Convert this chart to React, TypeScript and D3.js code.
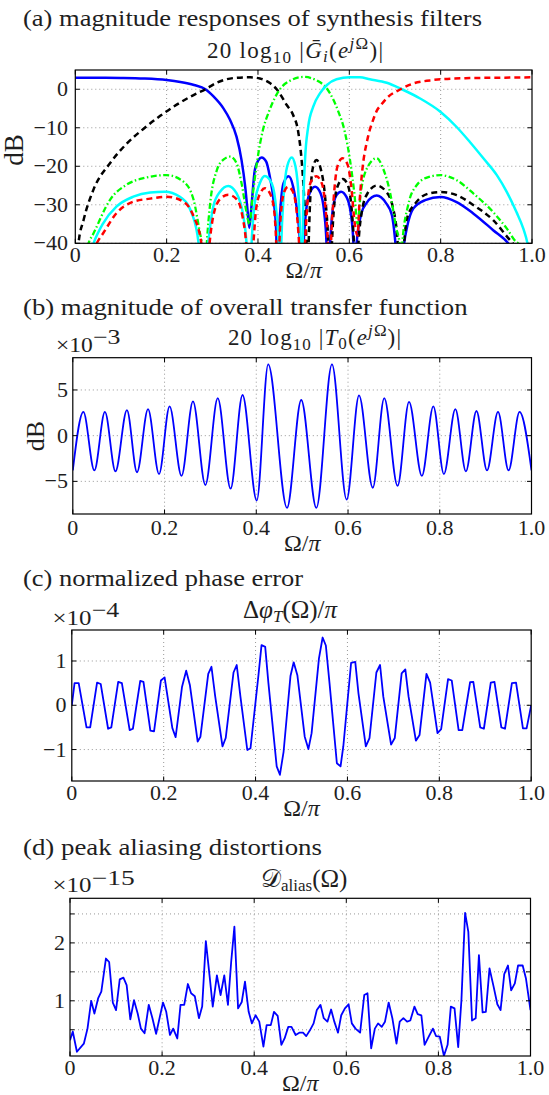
import * as d3 from "d3";

const SERIF = "'Liberation Serif', 'Times New Roman', serif";

// shared frequency axis, Ω/π
const omegaTicks = [0, 0.2, 0.4, 0.6, 0.8, 1.0];
const omegaTickLabels = ["0", "0.2", "0.4", "0.6", "0.8", "1.0"];

// (a) synthesis filters, [Ω/π, dB]. values below -40 dB fall outside the frame
const g0: [number, number][] = [
  [0, 3.0], [0.05, 3.0], [0.1, 2.95], [0.15, 2.8], [0.2, 2.4], [0.23, 1.9], [0.26, 1.1], [0.285, 0],
  [0.302, -1.8], [0.324, -4.9], [0.339, -8], [0.353, -12.3], [0.364, -18.4], [0.372, -25.3], [0.377, -31.3], [0.381, -36],
  [0.386, -30], [0.393, -21], [0.401, -18.4], [0.408, -17.7], [0.418, -18.8], [0.426, -22.7], [0.434, -28.7], [0.44, -37], [0.442, -55],
  [0.445, -40], [0.449, -31.3], [0.456, -24.4], [0.467, -22.6], [0.477, -25.3], [0.486, -32], [0.492, -40], [0.496, -55],
  [0.5, -40], [0.505, -32], [0.513, -27], [0.525, -25.3], [0.537, -27], [0.545, -32], [0.55, -40], [0.553, -55],
  [0.558, -40], [0.564, -31], [0.572, -27.5], [0.582, -26.6], [0.594, -28], [0.603, -32], [0.609, -40], [0.612, -55],
  [0.616, -40], [0.627, -32], [0.638, -29.5], [0.66, -27.6], [0.68, -29.5], [0.693, -32.6], [0.701, -40], [0.71, -55],
  [0.72, -40], [0.726, -36], [0.74, -31], [0.766, -28.8], [0.8, -28], [0.835, -29.3], [0.872, -32.3], [0.915, -36.6],
  [0.948, -40], [0.97, -44], [1.0, -50],
];
const g1: [number, number][] = [
  [0, -60], [0.007, -40], [0.018, -34], [0.04, -26], [0.076, -19.2], [0.112, -14.2], [0.149, -10.3], [0.186, -6.9],
  [0.222, -4.0], [0.259, -1.5], [0.285, 0], [0.31, 1.7], [0.346, 2.9], [0.383, 3.1], [0.404, 2.8], [0.426, 1.6],
  [0.441, 0], [0.463, -4.1], [0.477, -6.7], [0.488, -11], [0.496, -19], [0.502, -30], [0.506, -40], [0.508, -55],
  [0.511, -40], [0.515, -27], [0.52, -20.5], [0.528, -18.4], [0.537, -20.5], [0.547, -28], [0.554, -40], [0.558, -55],
  [0.562, -40], [0.567, -30], [0.575, -25], [0.586, -23.3], [0.597, -25], [0.605, -31], [0.61, -40], [0.614, -55],
  [0.62, -40], [0.627, -32], [0.64, -27], [0.66, -25], [0.68, -26.5], [0.695, -30.5], [0.706, -40], [0.712, -55],
  [0.72, -40], [0.726, -33.6], [0.747, -29.3], [0.773, -27.1], [0.8, -26.7], [0.835, -27.5], [0.872, -30.1],
  [0.915, -34], [0.952, -39.2], [0.958, -40], [0.98, -46], [1.0, -52],
];
const g2: [number, number][] = [
  [0, -60], [0.029, -40], [0.04, -37.4], [0.076, -28.7], [0.112, -24.8], [0.149, -23.1], [0.2, -22.3], [0.237, -24],
  [0.259, -28.7], [0.273, -37.4], [0.277, -40], [0.282, -55],
  [0.288, -40], [0.295, -30], [0.31, -21], [0.325, -18.2], [0.339, -17.5], [0.353, -19.2], [0.364, -24.4], [0.375, -32], [0.381, -35],
  [0.389, -27], [0.399, -18], [0.41, -11], [0.425, -5.5], [0.448, 0], [0.47, 2.2], [0.5, 3.2], [0.53, 2.2], [0.552, 0],
  [0.575, -5.5], [0.59, -11], [0.601, -18], [0.611, -27], [0.618, -35],
  [0.625, -27], [0.641, -20], [0.66, -17.9], [0.674, -20.6], [0.689, -26.7], [0.703, -36.2], [0.71, -40], [0.713, -55],
  [0.716, -40], [0.729, -30], [0.747, -25], [0.773, -22.8], [0.8, -22.3], [0.835, -23.6], [0.872, -27.1], [0.915, -31.9],
  [0.945, -36.2], [0.966, -39.7], [0.97, -40], [0.99, -50], [1.0, -55],
];
const g3: [number, number][] = [
  [0, -60], [0.04, -40], [0.061, -34.8], [0.09, -30.5], [0.127, -27.9], [0.164, -26.8], [0.196, -26.6], [0.229, -27.9],
  [0.255, -32.2], [0.27, -40], [0.28, -55],
  [0.291, -40], [0.302, -30.5], [0.317, -26.6], [0.335, -25.1], [0.353, -27], [0.368, -33], [0.375, -40], [0.381, -55],
  [0.386, -40], [0.393, -29.6], [0.404, -24.4], [0.415, -22.5], [0.43, -24.4], [0.44, -31.3], [0.445, -40], [0.448, -55],
  [0.451, -40], [0.456, -28], [0.464, -20], [0.474, -17.7], [0.482, -20], [0.489, -28], [0.493, -40], [0.496, -55],
  [0.499, -31], [0.503, -18.4], [0.51, -9.7], [0.521, -4.5], [0.536, -1], [0.551, 1.1], [0.572, 2.6], [0.601, 3.1],
  [0.623, 3.1], [0.645, 2.6], [0.682, 1.7], [0.715, 0], [0.755, -2.4], [0.8, -5.9], [0.835, -9.8], [0.864, -13.7],
  [0.894, -18], [0.923, -22.3], [0.945, -26.7], [0.966, -31.9], [0.981, -36.2], [0.99, -40], [1.0, -48],
];
const g4: [number, number][] = [
  [0, -60], [0.047, -40], [0.061, -37.4], [0.09, -32.2], [0.127, -29.2], [0.164, -28.4], [0.2, -27.9], [0.237, -29.2],
  [0.259, -33], [0.276, -40], [0.285, -55],
  [0.294, -40], [0.302, -33], [0.317, -28.5], [0.335, -27.4], [0.353, -28.5], [0.366, -33], [0.374, -40], [0.381, -55],
  [0.39, -40], [0.396, -31], [0.405, -27], [0.415, -25.7], [0.426, -27], [0.435, -31], [0.44, -40], [0.444, -55],
  [0.447, -40], [0.452, -30], [0.458, -26.5], [0.466, -25.3], [0.476, -26.5], [0.484, -31], [0.49, -40], [0.496, -55],
  [0.503, -40], [0.508, -30], [0.516, -24], [0.528, -22.6], [0.54, -24.5], [0.548, -31], [0.553, -40], [0.557, -55],
  [0.56, -40], [0.566, -28], [0.574, -20], [0.585, -17.9], [0.596, -19.5], [0.604, -25], [0.612, -35], [0.618, -38],
  [0.622, -30], [0.627, -22.7], [0.641, -12.3], [0.652, -8], [0.66, -5.6], [0.67, -4], [0.682, -2.3], [0.712, 0],
  [0.74, 1.5], [0.777, 2.3], [0.8, 2.6], [0.864, 2.9], [0.93, 3.0], [1.0, 3.1],
];
const dbTicks = [-40, -30, -20, -10, 0];

// (b) overall transfer magnitude, extremes of the ripple, [Ω/π, dB·1e3]
const t0Ripple: [number, number][] = [
  [0, -3.8], [0.023, 2.6], [0.047, -3.8], [0.07, 2.6], [0.093, -3.9], [0.118, 2.8], [0.14, -4.0], [0.164, 2.9],
  [0.188, -4.2], [0.211, 3.2], [0.237, -4.4], [0.262, 3.75], [0.289, -5.4], [0.316, 4.1], [0.344, -5.8], [0.37, 4.45],
  [0.401, -7.1], [0.426, 7.8], [0.467, -7.9], [0.498, 3.9], [0.531, -7.9], [0.565, 7.8], [0.597, -7.0], [0.624, 4.4],
  [0.654, -5.7], [0.679, 4.1], [0.708, -5.5], [0.733, 3.7], [0.761, -4.4], [0.786, 3.2], [0.809, -4.2], [0.834, 2.9],
  [0.857, -3.9], [0.88, 2.7], [0.903, -3.8], [0.927, 2.6], [0.95, -3.8], [0.974, 2.6], [1.0, -3.8],
];
const t0Ticks = [-5, 0, 5];

// (c) normalized phase error, [Ω/π, 1e4·Δφ/π]
const phaseErr: [number, number][] = [
  [0, 0], [0.006, 0.5], [0.015, 0.5], [0.032, -0.5], [0.04, -0.5], [0.055, 0.51], [0.063, 0.48], [0.079, -0.53],
  [0.086, -0.5], [0.101, 0.53], [0.109, 0.5], [0.126, -0.56], [0.133, -0.53], [0.149, 0.55], [0.156, 0.53],
  [0.171, -0.57], [0.179, -0.59], [0.194, 0.56], [0.202, 0.63], [0.219, -0.52], [0.226, -0.72], [0.24, 0.42],
  [0.249, 0.78], [0.257, 0.46], [0.274, -0.82], [0.28, -0.71], [0.297, 0.71], [0.304, 0.87], [0.312, 0.21],
  [0.328, -0.93], [0.335, -0.74], [0.352, 0.74], [0.359, 0.91], [0.367, 0.2], [0.382, -1.01], [0.389, -0.97],
  [0.406, 0.65], [0.413, 1.36], [0.421, 1.32], [0.428, 0.5], [0.446, -1.38], [0.453, -1.57], [0.461, -1.05],
  [0.476, 0.66], [0.483, 0.97], [0.491, 0.68], [0.507, -0.71], [0.515, -0.99], [0.522, -0.63], [0.538, 1.06],
  [0.546, 1.53], [0.553, 1.35], [0.561, 0.5], [0.577, -1.31], [0.585, -1.38], [0.591, -0.93], [0.608, 0.96],
  [0.617, 0.98], [0.624, 0.27], [0.64, -0.93], [0.648, -0.74], [0.663, 0.74], [0.671, 0.91], [0.678, 0.2],
  [0.695, -0.89], [0.703, -0.74], [0.718, 0.72], [0.726, 0.81], [0.733, 0.2], [0.749, -0.8], [0.757, -0.67],
  [0.772, 0.71], [0.78, 0.51], [0.796, -0.63], [0.804, -0.54], [0.819, 0.59], [0.827, 0.56], [0.842, -0.56],
  [0.85, -0.56], [0.867, 0.52], [0.874, 0.53], [0.889, -0.5], [0.897, -0.53], [0.912, 0.51], [0.92, 0.53],
  [0.935, -0.5], [0.943, -0.53], [0.958, 0.5], [0.967, 0.51], [0.982, -0.52], [0.99, -0.52], [1.0, 0],
];
const phaseTicks = [-1, 0, 1];

// (d) peak aliasing distortion, [Ω/π, 1e15·D]
const aliasDist: [number, number][] = [
  [0, 0.32], [0.006, 0.47], [0.015, 0.12], [0.03, 0.26], [0.038, 0.52], [0.046, 1.0], [0.053, 0.78], [0.061, 1.04],
  [0.068, 1.16], [0.078, 1.73], [0.085, 1.67], [0.093, 0.97], [0.1, 0.84], [0.108, 1.37], [0.116, 1.4], [0.123, 1.27],
  [0.131, 0.68], [0.139, 1.01], [0.147, 0.78], [0.154, 0.52], [0.162, 0.44], [0.171, 0.93], [0.179, 0.7], [0.187, 0.43],
  [0.195, 0.72], [0.202, 0.97], [0.209, 0.81], [0.217, 0.41], [0.224, 0.52], [0.233, 0.35], [0.24, 0.93], [0.248, 0.93],
  [0.256, 1.29], [0.263, 1.13], [0.271, 1.08], [0.28, 0.7], [0.287, 0.9], [0.295, 2.03], [0.303, 1.44], [0.31, 0.9],
  [0.319, 1.44], [0.327, 1.1], [0.335, 1.44], [0.343, 0.93], [0.35, 1.67], [0.357, 2.28], [0.365, 0.87], [0.373, 0.98],
  [0.38, 1.33], [0.388, 0.81], [0.395, 0.61], [0.403, 0.75], [0.411, 0.64], [0.42, 0.21], [0.427, 0.58], [0.436, 0.58],
  [0.443, 0.81], [0.451, 0.74], [0.459, 0.24], [0.466, 0.35], [0.474, 0.55], [0.481, 0.55], [0.49, 0.41], [0.498, 0.45],
  [0.506, 0.45], [0.513, 0.39], [0.521, 0.49], [0.529, 0.61], [0.536, 0.84], [0.544, 0.93], [0.551, 0.7], [0.559, 0.64],
  [0.567, 0.85], [0.574, 0.64], [0.582, 0.45], [0.589, 0.75], [0.597, 0.87], [0.605, 0.94], [0.612, 0.61], [0.62, 0.52],
  [0.63, 0.45], [0.639, 1.1], [0.646, 1.13], [0.654, 0.18], [0.662, 0.52], [0.669, 0.61], [0.677, 0.55], [0.684, 0.64],
  [0.692, 0.97], [0.7, 0.7], [0.709, 0.26], [0.716, 0.64], [0.724, 0.7], [0.732, 0.64], [0.739, 0.66], [0.748, 0.9],
  [0.755, 0.77], [0.763, 0.75], [0.77, 0.24], [0.779, 0.38], [0.788, 0.52], [0.795, 0.39], [0.803, 0.38], [0.812, 0.05],
  [0.82, 0.24], [0.827, 0.9], [0.835, 0.87], [0.843, 0.2], [0.85, 1.01], [0.858, 2.52], [0.865, 2.19], [0.873, 0.66],
  [0.881, 0.7], [0.888, 1.79], [0.896, 0.8], [0.903, 0.81], [0.911, 1.56], [0.92, 1.24], [0.928, 0.94], [0.935, 0.84],
  [0.943, 1.46], [0.951, 1.61], [0.958, 1.18], [0.966, 1.3], [0.973, 1.61], [0.983, 1.61], [0.99, 1.39], [1.0, 0.84],
];
const aliasTicks = [0.5, 1, 1.5, 2, 2.5];
const aliasLabeled = [1, 2];

type Trace = { pts: [number, number][]; color: string; width: number; dash?: string; smooth?: boolean };

const minus = (v: number) => (v < 0 ? "\u2212" + Math.abs(v) : String(v));
const INK = "#1e1e1e";

function Panel(props: {
  id: string;
  x0: number; x1: number; y0: number; y1: number;
  domain: [number, number];
  yTicks: number[];
  yLabeled?: number[];
  labelRight: number;
  xLabelBase: number;
  traces: Trace[];
}) {
  const { id, x0, x1, y0, y1, domain, yTicks, labelRight, xLabelBase, traces } = props;
  const yLabeled = props.yLabeled ?? yTicks;
  const x = d3.scaleLinear().domain([0, 1]).range([x0, x1]);
  const y = d3.scaleLinear().domain(domain).range([y1, y0]);
  const tl = 4.5;

  return (
    <g>
      <clipPath id={id}>
        <rect x={x0} y={y0} width={x1 - x0} height={y1 - y0} />
      </clipPath>
      {/* dotted grid */}
      {omegaTicks.slice(1, -1).map((t) => (
        <line key={"gx" + t} x1={x(t)} x2={x(t)} y1={y0} y2={y1} stroke="#8c8c8c" strokeWidth={0.9} strokeDasharray="1,3" />
      ))}
      {yTicks.map((t) => (
        <line key={"gy" + t} x1={x0} x2={x1} y1={y(t)} y2={y(t)} stroke="#8c8c8c" strokeWidth={0.9} strokeDasharray="1,3" />
      ))}
      <g clipPath={`url(#${id})`}>
        {traces.map((tr, i) => {
          const gen = d3
            .line<[number, number]>()
            .x((d) => x(d[0]))
            .y((d) => y(d[1]))
            .curve(tr.smooth ? d3.curveMonotoneX : d3.curveLinear);
          return (
            <path key={i} d={gen(tr.pts) ?? ""} fill="none" stroke={tr.color} strokeWidth={tr.width}
              strokeDasharray={tr.dash} strokeLinejoin="round" />
          );
        })}
      </g>
      {/* inward ticks on all four sides */}
      {omegaTicks.map((t) => (
        <g key={"tx" + t} stroke="#000" strokeWidth={1}>
          <line x1={x(t)} x2={x(t)} y1={y1} y2={y1 - tl} />
          <line x1={x(t)} x2={x(t)} y1={y0} y2={y0 + tl} />
        </g>
      ))}
      {yTicks.map((t) => (
        <g key={"ty" + t} stroke="#000" strokeWidth={1}>
          <line x1={x0} x2={x0 + tl} y1={y(t)} y2={y(t)} />
          <line x1={x1} x2={x1 - tl} y1={y(t)} y2={y(t)} />
        </g>
      ))}
      <rect x={x0} y={y0} width={x1 - x0} height={y1 - y0} fill="none" stroke="#000" strokeWidth={1.2} />
      <g fontFamily={SERIF} fontSize={22} fill={INK}>
        {omegaTicks.map((t, i) => (
          <text key={"lx" + t} x={x(t)} y={xLabelBase} textAnchor="middle">{omegaTickLabels[i]}</text>
        ))}
        {yLabeled.map((t) => (
          <text key={"ly" + t} x={labelRight} y={y(t) + 7} textAnchor="end">{minus(t)}</text>
        ))}
      </g>
      <text x={(x0 + x1) / 2} y={xLabelBase + 16} textAnchor="middle" fontFamily={SERIF} fontSize={24} fill={INK}>
        Ω/<tspan fontStyle="italic">π</tspan>
      </text>
    </g>
  );
}

function Exponent(props: { x: number; y: number; w: number; px: number; py: number; pw: number; power: string }) {
  return (
    <g fontFamily={SERIF} fill={INK}>
      <text x={props.x} y={props.y} fontSize={22} textLength={props.w} lengthAdjust="spacingAndGlyphs">×10</text>
      <text x={props.px} y={props.py} fontSize={21} textLength={props.pw} lengthAdjust="spacingAndGlyphs">{props.power}</text>
    </g>
  );
}

export default function App() {
  return (
    <div style={{ position: "absolute", left: 0, top: 0 }}>
      <svg width={549} height={1095} style={{ display: "block", background: "#fff" }}>
        <g fontFamily={SERIF} fill={INK}>
          {/* (a) */}
          <text x={23} y={26} fontSize={23.5} textLength={459} lengthAdjust="spacingAndGlyphs">
            (a) magnitude responses of synthesis filters
          </text>
          <text x={207} y={58} fontSize={23} textLength={176}>
            20 log<tspan fontSize={17} dy={5}>10</tspan>
            <tspan dy={-5}> |</tspan>
            <tspan fontStyle="italic">Ḡ</tspan>
            <tspan fontStyle="italic" fontSize={17} dy={4}>i</tspan>
            <tspan dy={-4}>(</tspan>
            <tspan fontStyle="italic">e</tspan>
            <tspan fontSize={17} dy={-9}><tspan fontStyle="italic">j</tspan>Ω</tspan>
            <tspan dy={9}>)|</tspan>
          </text>
          <text transform="translate(22.5,150) rotate(-90)" textAnchor="middle" fontSize={27}>dB</text>

          {/* (b) */}
          <text x={23} y={315} fontSize={23.5} textLength={444.6} lengthAdjust="spacingAndGlyphs">
            (b) magnitude of overall transfer function
          </text>
          <text x={228} y={345} fontSize={23} textLength={173}>
            20 log<tspan fontSize={17} dy={5}>10</tspan>
            <tspan dy={-5}> |</tspan>
            <tspan fontStyle="italic">T</tspan>
            <tspan fontSize={17} dy={4}>0</tspan>
            <tspan dy={-4}>(</tspan>
            <tspan fontStyle="italic">e</tspan>
            <tspan fontSize={17} dy={-9}><tspan fontStyle="italic">j</tspan>Ω</tspan>
            <tspan dy={9}>)|</tspan>
          </text>
          <Exponent x={56} y={351.7} w={36.8} px={93} py={343.5} pw={27.5} power="−3" />
          <text transform="translate(43.5,436) rotate(-90)" textAnchor="middle" fontSize={26}>dB</text>

          {/* (c) */}
          <text x={243} y={618} fontSize={25}>
            Δ<tspan fontStyle="italic">φ</tspan>
            <tspan fontStyle="italic" fontSize={17} dy={4}>T</tspan>
            <tspan dy={-4}>(Ω)/</tspan>
            <tspan fontStyle="italic">π</tspan>
          </text>
          <text x={23} y={586} fontSize={23.5} textLength={280} lengthAdjust="spacingAndGlyphs">
            (c) normalized phase error
          </text>
          <Exponent x={52.5} y={625} w={39} px={91.7} py={616.7} pw={27.5} power="−4" />

          {/* (d) */}
          <text x={23} y={855} fontSize={23.5} textLength={299} lengthAdjust="spacingAndGlyphs">
            (d) peak aliasing distortions
          </text>
          <text x={261} y={887} fontSize={25}>
            𝒟<tspan fontSize={17} dy={4}>alias</tspan>
            <tspan dy={-4}>(Ω)</tspan>
          </text>
          <Exponent x={52.5} y={891.7} w={39} px={91.7} py={885} pw={43} power="−15" />
        </g>

        <Panel id="clipA" x0={75.3} x1={532} y0={70} y1={243.3} domain={[-40, 5]} yTicks={dbTicks}
          labelRight={68} xLabelBase={262}
          traces={[
            { pts: g0, color: "#0000ff", width: 2.5, smooth: true },
            { pts: g1, color: "#000000", width: 2.5, dash: "6,4", smooth: true },
            { pts: g2, color: "#00ff00", width: 2.3, dash: "6,2.5,1.5,2.5", smooth: true },
            { pts: g3, color: "#00ffff", width: 2.5, smooth: true },
            { pts: g4, color: "#ff0000", width: 2.5, dash: "6,4", smooth: true },
          ]} />
        <Panel id="clipB" x0={72.8} x1={531.5} y0={357.7} y1={514} domain={[-8.57, 8.53]} yTicks={t0Ticks}
          labelRight={68} xLabelBase={535}
          traces={[{ pts: t0Ripple, color: "#0000ff", width: 1.8, smooth: true }]} />
        <Panel id="clipC" x0={71.8} x1={531.2} y0={630} y1={781} domain={[-1.71, 1.7]} yTicks={phaseTicks}
          labelRight={66.5} xLabelBase={800}
          traces={[{ pts: phaseErr, color: "#0000ff", width: 1.8 }]} />
        <Panel id="clipD" x0={70} x1={530.5} y0={898.3} y1={1056} domain={[0.047, 2.77]} yTicks={aliasTicks}
          yLabeled={aliasLabeled} labelRight={65} xLabelBase={1075}
          traces={[{ pts: aliasDist, color: "#0000ff", width: 1.8 }]} />
      </svg>
    </div>
  );
}
